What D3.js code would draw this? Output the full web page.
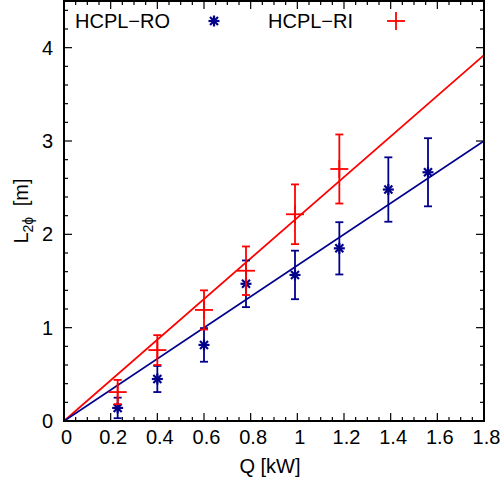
<!DOCTYPE html>
<html>
<head>
<meta charset="utf-8">
<script src="https://cdn.jsdelivr.net/npm/d3@7"></script>
<style>
  body { margin: 0; background: #fff; }
  text { font-family: "Liberation Sans", Arial, sans-serif; font-size: 20px; fill: #000; }
</style>
</head>
<body>
<svg id="chart" width="503" height="479"></svg>
<script>
// HCPL-RO (blue stars)
const qRO = [0.23, 0.40, 0.60, 0.78, 0.99, 1.18, 1.39, 1.56];
const lRO = [0.14, 0.45, 0.815, 1.47, 1.565, 1.85, 2.48, 2.665];
const eRO = [0.11, 0.14, 0.18, 0.25, 0.26, 0.28, 0.345, 0.365];
// HCPL-RI (red crosses)
const qRI = [0.23, 0.40, 0.60, 0.78, 0.99, 1.18];
const lRI = [0.31, 0.76, 1.19, 1.61, 2.215, 2.70];
const eRI = [0.13, 0.16, 0.21, 0.26, 0.32, 0.37];
// fitted lines (end points)
const fitRO = [[0, 0], [1.8, 3.0]];
const fitRI = [[0, 0], [1.8, 3.92]];

const xTicks = [0, 0.2, 0.4, 0.6, 0.8, 1, 1.2, 1.4, 1.6, 1.8];
const yTicks = [0, 1, 2, 3, 4];

const blue = "#00008b", red = "#ff0000";

const margin = { top: 1, right: 19, bottom: 58, left: 64 };
const width = 503 - margin.left - margin.right;
const height = 479 - margin.top - margin.bottom;

const svg = d3.select("#chart")
  .append("g")
  .attr("transform", "translate(" + margin.left + "," + margin.top + ")");

const x = d3.scaleLinear().domain([0, 1.8]).range([0, width]);
const y = d3.scaleLinear().domain([0, 4.5]).range([height, 0]);

svg.append("clipPath").attr("id", "clip")
  .append("rect").attr("width", width).attr("height", height);

// ticks, inward on all sides
const xMinor = d3.range(0, 1.8001, 0.05);
const yMinor = d3.range(0, 4.5001, 0.2);
const tk = svg.append("g").attr("stroke", "#000").attr("stroke-width", 1.2);
xMinor.forEach(function(v) {
  const major = xTicks.some(function(t) { return Math.abs(t - v) < 1e-6; });
  const len = major ? 8 : 4;
  tk.append("line").attr("x1", x(v)).attr("x2", x(v)).attr("y1", height).attr("y2", height - len);
  tk.append("line").attr("x1", x(v)).attr("x2", x(v)).attr("y1", 0).attr("y2", len);
});
yMinor.forEach(function(v) {
  const major = yTicks.some(function(t) { return Math.abs(t - v) < 1e-6; });
  const len = major ? 8 : 4;
  tk.append("line").attr("y1", y(v)).attr("y2", y(v)).attr("x1", 0).attr("x2", len);
  tk.append("line").attr("y1", y(v)).attr("y2", y(v)).attr("x1", width).attr("x2", width - len);
});

// tick labels
svg.selectAll(".xl").data(xTicks).enter().append("text")
  .attr("x", function(d) { return x(d) + 2.5; })
  .attr("y", height + 23)
  .attr("text-anchor", "middle")
  .text(function(d) { return String(d); });
svg.selectAll(".yl").data(yTicks).enter().append("text")
  .attr("x", -11)
  .attr("y", function(d) { return y(d) + 7; })
  .attr("text-anchor", "end")
  .text(function(d) { return d; });

// fit lines
const line = d3.line().x(function(d) { return x(d[0]); }).y(function(d) { return y(d[1]); });
const plot = svg.append("g").attr("clip-path", "url(#clip)");
plot.append("path").datum(fitRI).attr("fill", "none").attr("stroke", red).attr("stroke-width", 1.8).attr("d", line);
plot.append("path").datum(fitRO).attr("fill", "none").attr("stroke", blue).attr("stroke-width", 1.8).attr("d", line);

function errorBars(qs, ls, es, color) {
  const g = svg.append("g").attr("stroke", color).attr("stroke-width", 1.8).attr("fill", "none");
  qs.forEach(function(q, i) {
    const cx = x(q), y1 = y(ls[i] + es[i]), y0 = y(ls[i] - es[i]);
    g.append("line").attr("x1", cx).attr("x2", cx).attr("y1", y1).attr("y2", y0);
    g.append("line").attr("x1", cx - 4).attr("x2", cx + 4).attr("y1", y1).attr("y2", y1);
    g.append("line").attr("x1", cx - 4).attr("x2", cx + 4).attr("y1", y0).attr("y2", y0);
  });
}
function star(g, cx, cy, color) {
  const r = 5.5, d = 4;
  const s = g.append("g").attr("stroke", color).attr("stroke-width", 2.2);
  s.append("line").attr("x1", cx).attr("x2", cx).attr("y1", cy - r).attr("y2", cy + r);
  s.append("line").attr("x1", cx - r).attr("x2", cx + r).attr("y1", cy).attr("y2", cy);
  s.append("line").attr("x1", cx - d).attr("x2", cx + d).attr("y1", cy - d).attr("y2", cy + d);
  s.append("line").attr("x1", cx - d).attr("x2", cx + d).attr("y1", cy + d).attr("y2", cy - d);
}
function cross(g, cx, cy, color) {
  const r = 9;
  const s = g.append("g").attr("stroke", color).attr("stroke-width", 1.8);
  s.append("line").attr("x1", cx).attr("x2", cx).attr("y1", cy - r).attr("y2", cy + r);
  s.append("line").attr("x1", cx - r).attr("x2", cx + r).attr("y1", cy).attr("y2", cy);
}

errorBars(qRO, lRO, eRO, blue);
const ptsRO = svg.append("g");
qRO.forEach(function(q, i) { star(ptsRO, x(q), y(lRO[i]), blue); });
errorBars(qRI, lRI, eRI, red);
const ptsRI = svg.append("g");
qRI.forEach(function(q, i) { cross(ptsRI, x(q), y(lRI[i]), red); });

// frame
svg.append("rect").attr("width", width).attr("height", height)
  .attr("fill", "none").attr("stroke", "#000").attr("stroke-width", 2);

// legend
svg.append("text").attr("x", 11).attr("y", 27).text("HCPL\u2212RO");
star(svg, 150, 20, blue);
svg.append("text").attr("x", 204).attr("y", 27).text("HCPL\u2212RI");
cross(svg, 332, 20, red);

// axis labels
svg.append("text")
  .attr("x", width / 2 - 4).attr("y", height + 52)
  .attr("text-anchor", "middle")
  .text("Q [kW]");
const yl = svg.append("text")
  .attr("transform", "translate(-36," + (211 - margin.top) + ") rotate(-90)")
  .attr("text-anchor", "middle");
yl.append("tspan").text("L");
yl.append("tspan").attr("font-size", "14px").attr("dy", 5).text("2\u03d5");
yl.append("tspan").attr("dy", -5).attr("dx", 5).text(" [m]");
</script>
</body>
</html>
